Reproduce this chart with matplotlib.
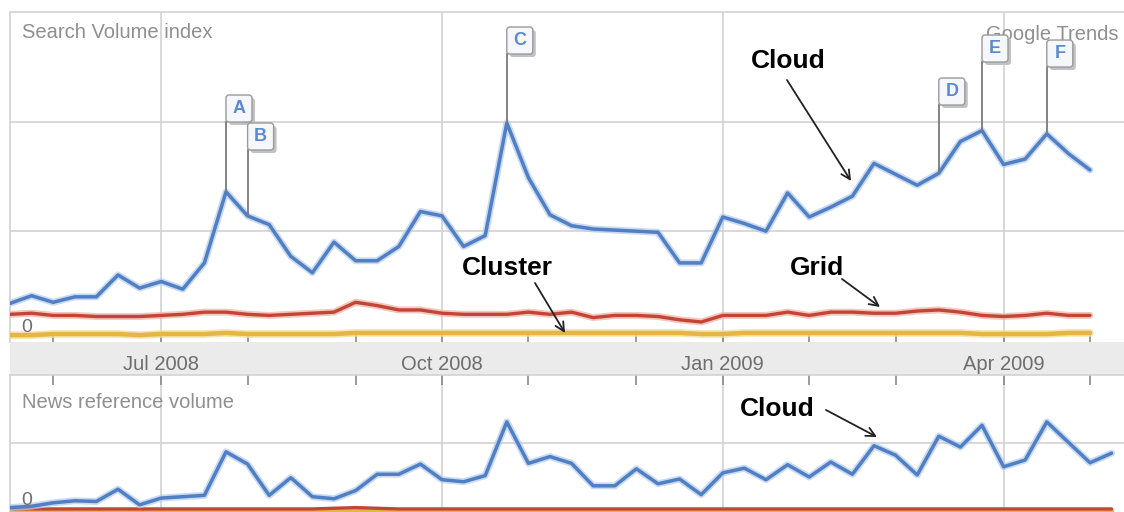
import matplotlib
matplotlib.use('Agg')
import matplotlib.pyplot as plt
from matplotlib.patches import FancyBboxPatch, Rectangle
from matplotlib.transforms import ScaledTranslation

plt.rcParams['font.family'] = ['Liberation Sans', 'DejaVu Sans']

# ---------------- data ----------------
weeks = list(range(51))
cloud_search = [0.34, 0.41, 0.35, 0.40, 0.40, 0.60, 0.48, 0.54, 0.47, 0.71,
                1.36, 1.14, 1.06, 0.77, 0.62, 0.90, 0.73, 0.73, 0.86, 1.18,
                1.14, 0.86, 0.96, 1.99, 1.49, 1.15, 1.05, 1.02, 1.01, 1.00,
                0.99, 0.71, 0.71, 1.13, 1.07, 1.00, 1.35, 1.13, 1.22, 1.32,
                1.62, 1.52, 1.42, 1.53, 1.82, 1.92, 1.61, 1.66, 1.89, 1.71,
                1.56]
grid_search = [0.24, 0.25, 0.23, 0.23, 0.22, 0.22, 0.22, 0.23, 0.24, 0.26,
               0.26, 0.24, 0.23, 0.24, 0.25, 0.26, 0.35, 0.32, 0.28, 0.28,
               0.25, 0.24, 0.24, 0.24, 0.26, 0.24, 0.26, 0.21, 0.23, 0.23,
               0.22, 0.19, 0.17, 0.23, 0.23, 0.23, 0.26, 0.23, 0.26, 0.26,
               0.25, 0.25, 0.27, 0.28, 0.26, 0.23, 0.22, 0.23, 0.25, 0.23,
               0.23]
cluster_search = [0.05, 0.05, 0.06, 0.06, 0.06, 0.06, 0.05, 0.06, 0.06, 0.06,
                  0.07, 0.06, 0.06, 0.06, 0.06, 0.06, 0.07, 0.07, 0.07, 0.07,
                  0.07, 0.07, 0.07, 0.07, 0.07, 0.07, 0.07, 0.07, 0.07, 0.07,
                  0.07, 0.07, 0.06, 0.06, 0.07, 0.07, 0.07, 0.07, 0.07, 0.07,
                  0.07, 0.07, 0.07, 0.07, 0.07, 0.06, 0.06, 0.06, 0.06, 0.07,
                  0.07]

news_weeks = list(range(52))
cloud_news = [0.05, 0.07, 0.12, 0.15, 0.14, 0.32, 0.09, 0.19, 0.21, 0.23,
              0.87, 0.69, 0.23, 0.49, 0.21, 0.18, 0.30, 0.54, 0.54, 0.69,
              0.46, 0.43, 0.52, 1.31, 0.70, 0.80, 0.70, 0.37, 0.37, 0.62,
              0.40, 0.47, 0.24, 0.56, 0.63, 0.46, 0.68, 0.50, 0.72, 0.54,
              0.96, 0.82, 0.53, 1.10, 0.94, 1.26, 0.65, 0.75, 1.31, 1.01,
              0.71, 0.85]
grid_news = [0.03, 0.03, 0.03, 0.03, 0.03, 0.03, 0.03, 0.03, 0.03, 0.03,
             0.03, 0.03, 0.03, 0.03, 0.03, 0.04, 0.05, 0.04, 0.03, 0.03,
             0.03, 0.03, 0.03, 0.03, 0.03, 0.03, 0.03, 0.03, 0.03, 0.03,
             0.03, 0.03, 0.03, 0.03, 0.03, 0.03, 0.03, 0.03, 0.03, 0.03,
             0.03, 0.03, 0.03, 0.03, 0.03, 0.03, 0.03, 0.03, 0.03, 0.03,
             0.03, 0.03]
cluster_news = [0.00] * 52

month_tick_idx = [2, 11, 16, 24, 29, 37, 41, 50]
label_tick_idx = [7, 20, 33, 46]
tick_labels = ['Jul 2008', 'Oct 2008', 'Jan 2009', 'Apr 2009']

flag_letters = ['A', 'B', 'C', 'D', 'E', 'F']
flag_weeks = [10, 11, 23, 43, 45, 48]

# ---------------- layout ----------------
W, H = 1124, 512
fig = plt.figure(figsize=(W / 100, H / 100), dpi=100)
fig.patch.set_facecolor('white')


def fr(x0, y0, x1, y1):
    return [x0 / W, 1 - y1 / H, (x1 - x0) / W, (y1 - y0) / H]


ax = fig.add_axes(fr(10, 12, 1124, 342))
axn = fig.add_axes(fr(10, 375, 1124, 512))

band = Rectangle((10 / W, 1 - 375 / H), (W - 10) / W, 33 / H,
                 transform=fig.transFigure, facecolor='#ebebeb',
                 edgecolor='none', zorder=-5)
fig.patches.append(band)

XMAX = (1124 - 10) / 21.6


def tp(x, y):  # top-panel pixel -> data
    return ((x - 10) / 21.6, (340.6 - y) / 109.4)


def bp(x, y):  # bottom-panel pixel -> data
    return ((x - 10) / 21.6, (511 - y) / 68.0)


BLUE = '#4f7fc4'
RED = '#c24536'
YEL = '#e6b548'
GRIDC = '#d2d2d2'
TXT = '#8f8f8f'

for a in (ax, axn):
    a.set_xlim(0, XMAX)
    a.set_xticks(label_tick_idx)
    a.set_xticks(month_tick_idx, minor=True)
    a.grid(axis='x', which='major', color=GRIDC, lw=1.2, zorder=1)
    a.grid(axis='y', which='major', color=GRIDC, lw=1.2, zorder=1)
    for s in ('right', 'bottom'):
        a.spines[s].set_visible(False)
    for s in ('left', 'top'):
        a.spines[s].set_color(GRIDC)
        a.spines[s].set_linewidth(1.2)
    a.tick_params(axis='y', length=0, labelleft=False)
    a.set_axisbelow(True)

ax.set_ylim(-0.013, 3.004)
ax.set_yticks([1, 2])
ax.set_xticks(label_tick_idx, tick_labels)
ax.tick_params(axis='x', which='both', direction='in', length=7, width=1.2,
               color='#8a8a8a', labelsize=14.5, labelcolor='#6e6e6e', pad=9)

axn.set_ylim(-0.015, 2.0)
axn.set_yticks([1])
axn.tick_params(axis='x', which='both', direction='in', length=7, width=1.2,
                color='#8a8a8a', bottom=False, top=True, labelbottom=False)

# ---------------- lines ----------------
kw = dict(solid_joinstyle='round', solid_capstyle='round', zorder=3)
ax.plot(weeks, cluster_search, color='#f5dc9c', lw=5.5, alpha=0.8, **kw)
ax.plot(weeks, cluster_search, color=YEL, lw=3.2, **kw)
ax.plot(weeks, grid_search, color='#f1b8ae', lw=5.0, alpha=0.8, **kw)
ax.plot(weeks, grid_search, color=RED, lw=2.4, **kw)
ax.plot(weeks, cloud_search, color='#b6cbea', lw=5.0, alpha=0.7, **kw)
ax.plot(weeks, cloud_search, color=BLUE, lw=2.5, **kw)

axn.plot(news_weeks, cluster_news, color=YEL, lw=3.2, **kw)
axn.plot(news_weeks, grid_news, color=RED, lw=2.4, **kw)
axn.plot(news_weeks, cloud_news, color='#b6cbea', lw=5.0, alpha=0.7, **kw)
axn.plot(news_weeks, cloud_news, color=BLUE, lw=2.5, **kw)

# ---------------- texts ----------------
ax.text(*tp(22, 32), 'Search Volume index', ha='left', va='center',
        fontsize=14.5, color=TXT, zorder=4)
ax.text(*tp(1118, 34), 'Google Trends', ha='right', va='center',
        fontsize=14.5, color=TXT, zorder=4)
ax.text(*tp(27, 328), '0', ha='center', va='center', fontsize=14,
        color='#6e6e6e', zorder=4)
axn.text(*bp(22, 403), 'News reference volume', ha='left', va='center',
         fontsize=14.5, color=TXT, zorder=4)
axn.text(*bp(27, 501), '0', ha='center', va='center', fontsize=14,
         color='#6e6e6e', zorder=4)

# ---------------- flags ----------------
flag_bottom_px = [122, 150, 54, 105, 62, 67]
for letter, w, bpx in zip(flag_letters, flag_weeks, flag_bottom_px):
    fb = (340.6 - bpx) / 109.4
    ax.plot([w, w], [cloud_search[w], fb], color='#7a7a7a', lw=1.3, zorder=5)
    tr = fig.dpi_scale_trans + ScaledTranslation(w, fb, ax.transData)
    shadow = FancyBboxPatch((0.03, -0.03), 0.26, 0.27,
                            boxstyle='round,pad=0,rounding_size=0.03',
                            fc='#c2c2c2', ec='none', transform=tr, zorder=6)
    face = FancyBboxPatch((0, 0), 0.26, 0.27,
                          boxstyle='round,pad=0,rounding_size=0.03',
                          fc='#f5f7fb', ec='#9a9a9a', lw=1.0,
                          transform=tr, zorder=7)
    ax.add_patch(shadow)
    ax.add_patch(face)
    ax.text(0.13, 0.135, letter, transform=tr, ha='center', va='center',
            fontsize=13, fontweight='bold', color='#5b8ad0', zorder=8)

# ---------------- annotations ----------------
akw = dict(arrowstyle='->', color='#222222', lw=1.3, shrinkA=0, shrinkB=0,
           mutation_scale=16)
ax.text(*tp(788, 61), 'Cloud', ha='center', va='center', fontsize=19,
        fontweight='bold', color='black', zorder=9)
ax.annotate('', xy=tp(851, 181), xytext=tp(787, 80), arrowprops=akw, zorder=9)

ax.text(*tp(507, 268), 'Cluster', ha='center', va='center', fontsize=19,
        fontweight='bold', color='black', zorder=9)
ax.annotate('', xy=tp(565, 333), xytext=tp(535, 283), arrowprops=akw, zorder=9)

ax.text(*tp(817, 268), 'Grid', ha='center', va='center', fontsize=19,
        fontweight='bold', color='black', zorder=9)
ax.annotate('', xy=tp(880, 307), xytext=tp(842, 279), arrowprops=akw, zorder=9)

axn.text(*bp(777, 409), 'Cloud', ha='center', va='center', fontsize=19,
         fontweight='bold', color='black', zorder=9)
axn.annotate('', xy=bp(877, 437), xytext=bp(826, 410), arrowprops=akw, zorder=9)

fig.savefig('out.png', dpi=100)
